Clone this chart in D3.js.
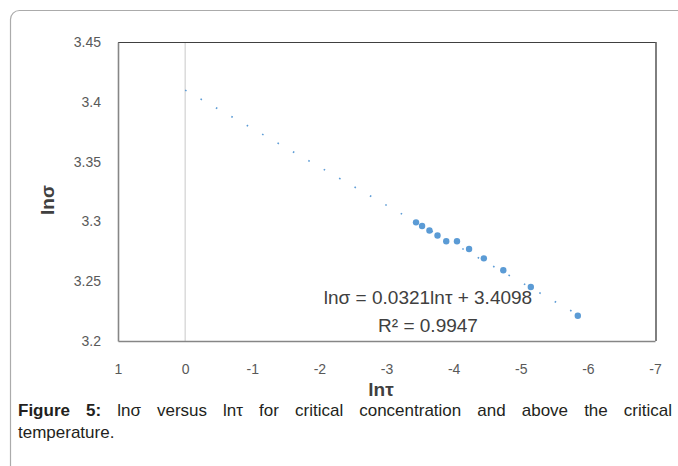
<!DOCTYPE html>
<html>
<head>
<meta charset="utf-8">
<script src="https://cdn.jsdelivr.net/npm/d3@7"></script>
<style>
  html, body { margin: 0; padding: 0; background: #fff; }
  svg { display: block; }
</style>
</head>
<body>
<svg id="chart" width="678" height="466"></svg>
<script>
// ---- data ----
const lnTau   = [-3.44, -3.53, -3.64, -3.76, -3.89, -4.05, -4.23, -4.45, -4.74, -5.15, -5.85];
const lnSigma = [3.2992, 3.2962, 3.2924, 3.2882, 3.2834, 3.2834, 3.2769, 3.2691, 3.2591, 3.2452, 3.2211];
const trendSlope = 0.0321;
const trendIntercept = 3.4098;
const xTicks = [1, 0, -1, -2, -3, -4, -5, -6, -7];
const yTicks = [3.2, 3.25, 3.3, 3.35, 3.4, 3.45];
const equationLines = ["lnσ = 0.0321lnτ + 3.4098", "R² = 0.9947"];
const xTitle = "lnτ";
const yTitle = "lnσ";
const captionBold = ["Figure", "5:"];
const captionWords = ["lnσ", "versus", "lnτ", "for", "critical", "concentration", "and", "above", "the", "critical"];
const captionLine2 = "temperature.";

// ---- layout ----
const svg = d3.select("#chart");
const L = 118, R = 655, T = 42, B = 341;
const x = d3.scaleLinear().domain([1, -7]).range([L, R]);
const y = d3.scaleLinear().domain([3.2, 3.45]).range([B, T]);
const font = "'Liberation Sans', Arial, sans-serif";
const capFontFamily = "'Liberation Sans Narrow', 'Arial Narrow', 'Liberation Sans', Arial, sans-serif";

// outer rounded frame
svg.append("rect")
  .attr("x", 10.5).attr("y", 10.5).attr("width", 720).attr("height", 520)
  .attr("rx", 9).attr("fill", "none").attr("stroke", "#ababab").attr("stroke-width", 1.2);

// zero line
svg.append("line")
  .attr("x1", x(0)).attr("x2", x(0)).attr("y1", T).attr("y2", B)
  .attr("stroke", "#c8c8c8").attr("stroke-width", 1);

// plot frame: top/right dark, left/bottom gray
svg.append("line").attr("x1", L).attr("x2", R + 1).attr("y1", T + 0.5).attr("y2", T + 0.5)
  .attr("stroke", "#404040").attr("stroke-width", 1.2);
svg.append("line").attr("x1", R + 1).attr("x2", R + 1).attr("y1", T).attr("y2", B)
  .attr("stroke", "#606060").attr("stroke-width", 1.6);

// axes
const xAxis = svg.append("g").attr("transform", `translate(0,${B})`)
  .call(d3.axisBottom(x).tickValues(xTicks).tickSize(0).tickPadding(23).tickFormat(d => String(d)));
const yAxis = svg.append("g").attr("transform", `translate(${L},0)`)
  .call(d3.axisLeft(y).tickValues(yTicks).tickSize(0).tickPadding(17).tickFormat(d => String(d)));
[xAxis, yAxis].forEach(g => {
  g.select(".domain").attr("stroke", "#868686").attr("stroke-width", 1.6);
  g.selectAll("text").attr("font-family", font).attr("font-size", 14).attr("fill", "#595959");
});

// trendline (dotted)
const tx0 = 0, tx1 = d3.min(lnTau);
svg.append("line")
  .attr("x1", x(tx0)).attr("y1", y(trendIntercept + trendSlope * tx0))
  .attr("x2", x(tx1)).attr("y2", y(trendIntercept + trendSlope * tx1))
  .attr("stroke", "#5b9bd5").attr("stroke-width", 1.6)
  .attr("stroke-dasharray", "1.6 16.14");

// data points
svg.append("g").selectAll("circle")
  .data(lnTau.map((v, i) => [v, lnSigma[i]]))
  .join("circle")
  .attr("cx", d => x(d[0])).attr("cy", d => y(d[1])).attr("r", 3.2)
  .attr("fill", "#5b9bd5");

// equation
svg.append("g").selectAll("text").data(equationLines).join("text")
  .attr("x", 428).attr("y", (d, i) => 304 + i * 27.5)
  .attr("text-anchor", "middle").attr("font-family", font).attr("font-size", 19)
  .attr("fill", "#404040").text(d => d);

// axis titles
svg.append("text").attr("x", 381).attr("y", 396).attr("text-anchor", "middle")
  .attr("font-family", font).attr("font-weight", "bold").attr("font-size", 19)
  .attr("fill", "#404040").text(xTitle);
svg.append("text").attr("transform", "translate(54,200) rotate(-90)").attr("text-anchor", "middle")
  .attr("font-family", font).attr("font-weight", "bold").attr("font-size", 19)
  .attr("fill", "#404040").text(yTitle);

// caption (justified first line)
const capX0 = 18, capX1 = 672, capY1 = 416, capY2 = 438;
const capFont = 17;
const allWords = captionBold.map(w => ({ w, b: true })).concat(captionWords.map(w => ({ w, b: false })));
const capG = svg.append("g");
const nodes = allWords.map(o => capG.append("text")
  .attr("y", capY1).attr("font-family", capFontFamily).attr("font-size", capFont)
  .attr("font-weight", o.b ? "bold" : "normal").attr("fill", "#231f20").text(o.w));
const widths = nodes.map(n => n.node().getComputedTextLength());
const gap = (capX1 - capX0 - d3.sum(widths)) / (nodes.length - 1);
let cx = capX0;
nodes.forEach((n, i) => { n.attr("x", cx); cx += widths[i] + gap; });
capG.append("text").attr("x", capX0).attr("y", capY2).attr("font-family", capFontFamily)
  .attr("font-size", capFont).attr("fill", "#231f20").text(captionLine2);
</script>
</body>
</html>
